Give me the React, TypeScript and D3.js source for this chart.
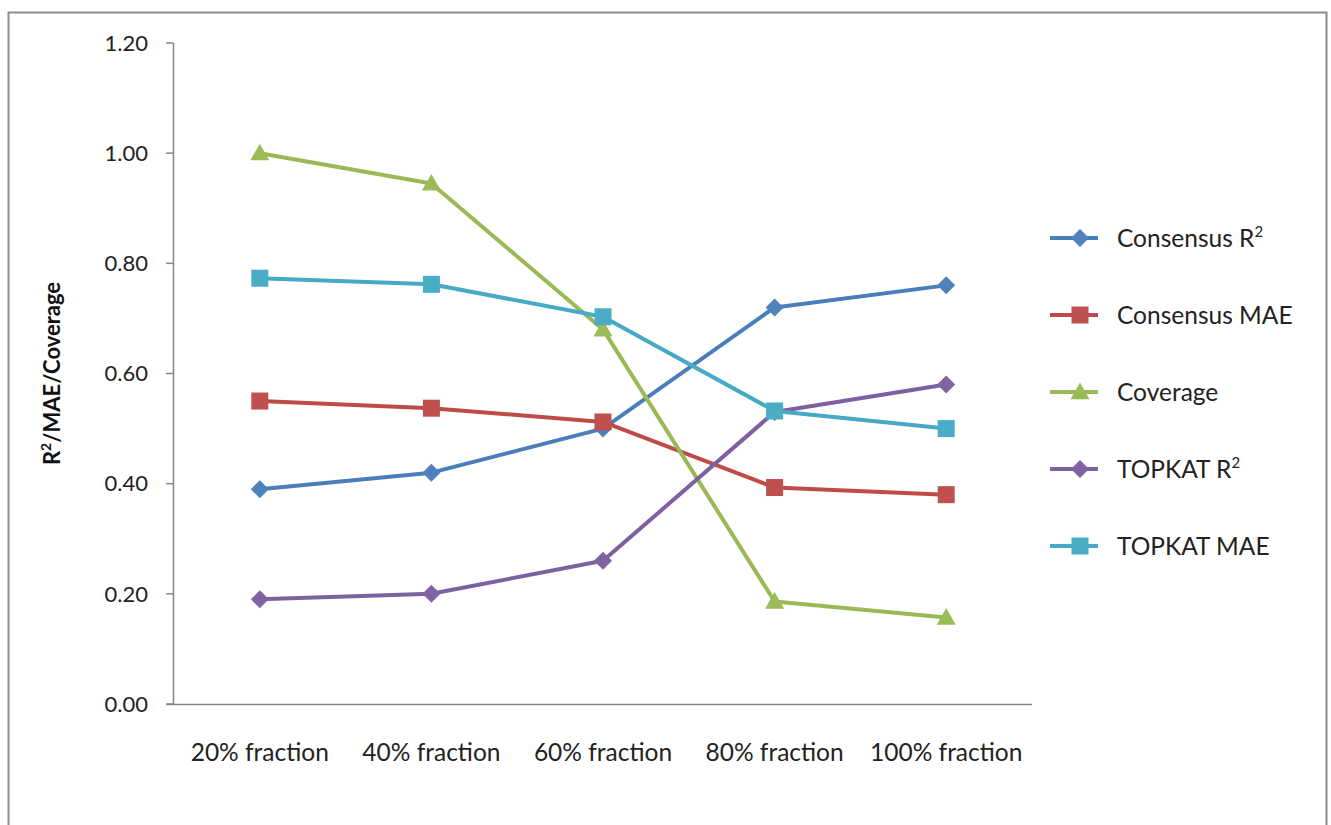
import React from "react";
import * as d3 from "d3";

// Category labels along the x axis
const categories = ["20% fraction", "40% fraction", "60% fraction", "80% fraction", "100% fraction"];

// Series values (one per category)
const consensusR2 = [0.39, 0.42, 0.5, 0.72, 0.76];
const consensusMAE = [0.55, 0.537, 0.512, 0.393, 0.38];
const coverage = [1.0, 0.945, 0.68, 0.186, 0.157];
const topkatR2 = [0.19, 0.2, 0.26, 0.53, 0.58];
const topkatMAE = [0.773, 0.762, 0.703, 0.532, 0.5];

// Y axis ticks
const yTicks = [0, 0.2, 0.4, 0.6, 0.8, 1.0, 1.2];

type Marker = "diamond" | "square" | "triangle";

const series: { name: string; sup?: boolean; values: number[]; line: string; fill: string; marker: Marker }[] = [
  { name: "Consensus R", sup: true, values: consensusR2, line: "#4A7EBB", fill: "#4F81BD", marker: "diamond" },
  { name: "Consensus MAE", values: consensusMAE, line: "#BE4B48", fill: "#C0504D", marker: "square" },
  { name: "Coverage", values: coverage, line: "#98B954", fill: "#9BBB59", marker: "triangle" },
  { name: "TOPKAT R", sup: true, values: topkatR2, line: "#7D60A0", fill: "#8064A2", marker: "diamond" },
  { name: "TOPKAT MAE", values: topkatMAE, line: "#46AAC5", fill: "#4BACC6", marker: "square" },
];

const W = 1331;
const H = 825;
const FONT = "Lato, 'Open Sans', sans-serif";
const FS_TICK = 22;
const FS_CAT = 24.5;
const FS_LEGEND = 24.5;

function MarkerShape({ kind, x, y, fill }: { kind: Marker; x: number; y: number; fill: string }) {
  if (kind === "square") {
    const s = 17;
    return <rect x={x - s / 2} y={y - s / 2} width={s} height={s} fill={fill} />;
  }
  if (kind === "diamond") {
    const r = 9;
    return <path d={`M${x},${y - r}L${x + r},${y}L${x},${y + r}L${x - r},${y}Z`} fill={fill} />;
  }
  const r = 9.5;
  return <path d={`M${x},${y - r}L${x + r},${y + r * 0.75}L${x - r},${y + r * 0.75}Z`} fill={fill} />;
}

export default function App() {
  const x = d3.scaleBand<string>().domain(categories).range([174, 1032]);
  const y = d3.scaleLinear().domain([0, 1.2]).range([704, 43]);
  const cx = (c: string) => (x(c) as number) + x.bandwidth() / 2;

  const lineGen = d3
    .line<number>()
    .x((_, i) => cx(categories[i]))
    .y((v) => y(v));

  const legendX = 1050;
  const legendY0 = 238;
  const legendStep = 77;

  return (
    <svg
      width={W}
      height={H}
      style={{ position: "absolute", left: 0, top: 0, background: "#fff" }}
      fontFamily={FONT}
    >
      {/* chart frame */}
      <rect x={8.5} y={12.5} width={1318} height={840} fill="none" stroke="#8c8c8c" strokeWidth={2} />

      {/* y axis */}
      <line x1={173.5} x2={173.5} y1={y(1.2)} y2={y(0)} stroke="#868686" strokeWidth={1.5} />
      {yTicks.map((t) => (
        <g key={t}>
          <line x1={166} x2={173.5} y1={y(t)} y2={y(t)} stroke="#868686" strokeWidth={1.5} />
          <text x={148} y={y(t)} dy="0.35em" textAnchor="end" fontSize={FS_TICK} fill="#222">
            {t.toFixed(2)}
          </text>
        </g>
      ))}

      {/* x axis */}
      <line x1={166} x2={1032} y1={y(0) + 0.5} y2={y(0) + 0.5} stroke="#868686" strokeWidth={1.5} />
      {categories.map((c) => (
        <text key={c} x={cx(c)} y={752} dy="0.35em" textAnchor="middle" fontSize={FS_CAT} fill="#222">
          {c}
        </text>
      ))}

      {/* y axis title */}
      <text
        transform={`translate(60, ${(y(0) + y(1.2)) / 2}) rotate(-90)`}
        textAnchor="middle"
        fontSize={22}
        fontWeight="bold"
        fill="#111"
      >
        R<tspan fontSize={14} dy={-9}>2</tspan>
        <tspan dy={9}>/MAE/Coverage</tspan>
      </text>

      {/* series lines and markers */}
      {series.map((s) => (
        <g key={s.name + s.marker}>
          <path d={lineGen(s.values) || ""} fill="none" stroke={s.line} strokeWidth={4} strokeLinejoin="round" />
          {s.values.map((v, i) => (
            <MarkerShape key={i} kind={s.marker} x={cx(categories[i])} y={y(v)} fill={s.fill} />
          ))}
        </g>
      ))}

      {/* legend */}
      {series.map((s, i) => {
        const ly = legendY0 + i * legendStep;
        return (
          <g key={"lg" + i}>
            <line x1={legendX} x2={legendX + 48} y1={ly} y2={ly} stroke={s.line} strokeWidth={4} />
            <MarkerShape kind={s.marker} x={legendX + 30} y={ly} fill={s.fill} />
            <text x={legendX + 67} y={ly} dy="0.35em" fontSize={FS_LEGEND} fill="#222">
              {s.name}
              {s.sup ? (
                <tspan fontSize={15} dy={-10}>
                  2
                </tspan>
              ) : null}
            </text>
          </g>
        );
      })}
    </svg>
  );
}
